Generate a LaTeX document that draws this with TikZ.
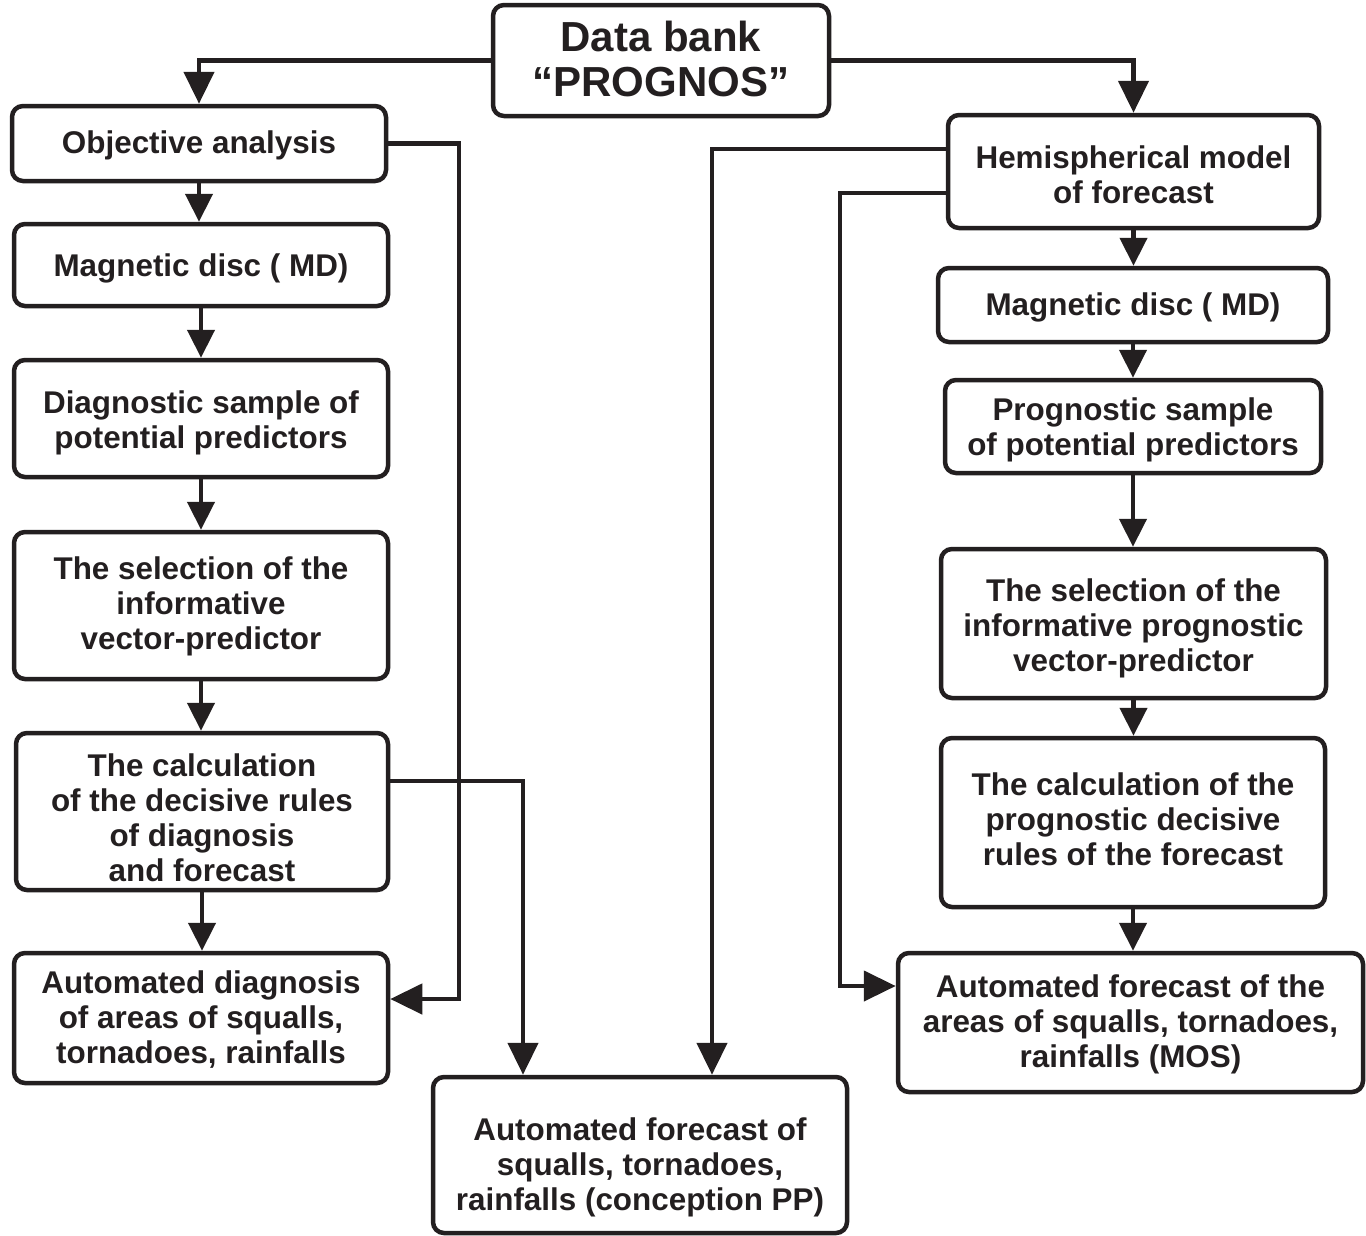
\documentclass[tikz,border=0pt]{standalone}
\usepackage{fontspec}
\setmainfont{Liberation Sans}
\usetikzlibrary{arrows.meta}
\definecolor{ink}{HTML}{231F20}
% strut on the first line: moves the text block down by #1 pt
\newcommand{\dn}[1]{\rule{0pt}{\dimexpr 23pt+#1pt*2\relax}}
% depth on the last line: moves the text block up by #1 pt
\newcommand{\up}[1]{\rule[-#1pt*2]{0pt}{#1pt*2}}
\begin{document}
\begin{tikzpicture}[x=1pt,y=-1pt,
  box/.style={draw=ink, line width=4.5pt, rounded corners=11pt, align=center, inner sep=0pt,
    font=\fontsize{31.4}{35}\selectfont\bfseries, text=ink},
  arr/.style={draw=ink, line width=4.5pt, -{Triangle[length=28pt,width=27pt]}},
  arrbig/.style={draw=ink, line width=4.5pt, -{Triangle[length=32pt,width=30pt]}}]
\useasboundingbox (0,0) rectangle (1366,1235);

% centre column
\node[box, minimum width=336pt, minimum height=111pt, font=\fontsize{42}{45}\selectfont\bfseries] (db) at (661,60.5) {Data bank\\``PROGNOS''\rule[-4pt]{0pt}{4pt}};
\node[box, minimum width=414pt, minimum height=156pt] (pp) at (640,1155) {\dn{12}Automated forecast of\\squalls, tornadoes,\\rainfalls (conception PP)};

% left column
\node[box, minimum width=374pt, minimum height=75pt] (obj) at (199,143.5) {\dn{2}Objective analysis};
\node[box, minimum width=374pt, minimum height=82pt] (mdL) at (201,265) {\dn{3}Magnetic disc ( MD)};
\node[box, minimum width=374pt, minimum height=117pt] (diag) at (201,418.5) {\dn{4}Diagnostic sample of\\potential predictors};
\node[box, minimum width=374pt, minimum height=147pt] (selL) at (201,605.5) {\dn{1}The selection of the\\informative\\vector-predictor};
\node[box, minimum width=372pt, minimum height=157pt] (calcL) at (202,811.5) {\dn{6}The calculation\\of the decisive rules\\of diagnosis\\and forecast};
\node[box, minimum width=374pt, minimum height=130pt] (autoD) at (201,1018) {\dn{1}Automated diagnosis\\of areas of squalls,\\tornadoes, rainfalls};

% right column
\node[box, minimum width=371pt, minimum height=113pt] (hemi) at (1133.5,171.5) {\dn{3.5}Hemispherical model\\of forecast};
\node[box, minimum width=390pt, minimum height=74pt] (mdR) at (1133,305) {\dn{2}Magnetic disc ( MD)};
\node[box, minimum width=376pt, minimum height=93pt] (prog) at (1133,426.5) {\dn{3.5}Prognostic sample\\of potential predictors};
\node[box, minimum width=385pt, minimum height=149pt] (selR) at (1133.5,623.5) {\dn{5}The selection of the\\informative prognostic\\vector-predictor};
\node[box, minimum width=384pt, minimum height=169pt] (calcR) at (1133,822.5) {The calculation of the\\prognostic decisive\\rules of the forecast\rule[-6pt]{0pt}{6pt}};
\node[box, minimum width=465pt, minimum height=139pt] (mos) at (1130.5,1022.5) {\dn{2}Automated forecast of the\\areas of squalls, tornadoes,\\rainfalls (MOS)};

% helper coordinates
\coordinate (tL) at (459,0);
\coordinate (tM) at (523,0);
\coordinate (tH) at (712,0);
\coordinate (tR) at (840,0);
\coordinate (aD) at ([yshift=19pt]autoD.east);
\coordinate (cLo) at ([yshift=30.5pt]calcL.east);
\coordinate (hA) at ([yshift=22.5pt]hemi.west);
\coordinate (hB) at ([yshift=-21.5pt]hemi.west);
\coordinate (mA) at ([yshift=36.5pt]mos.west);

% top connectors
\draw[arrbig] (db.west) -| (obj.north);
\draw[arrbig] (db.east) -| (hemi.north);

% left chain
\draw[arr] (obj.south) -- (obj.south |- mdL.north);
\draw[arr] (mdL.south) -- (mdL.south |- diag.north);
\draw[arr] (diag.south) -- (diag.south |- selL.north);
\draw[arr] (selL.south) -- (selL.south |- calcL.north);
\draw[arr] (calcL.south) -- (calcL.south |- autoD.north);

% right chain
\draw[arr] (hemi.south) -- (hemi.south |- mdR.north);
\draw[arr] (mdR.south) -- (mdR.south |- prog.north);
\draw[arr] (prog.south) -- (prog.south |- selR.north);
\draw[arr] (selR.south) -- (selR.south |- calcR.north);
\draw[arr] (calcR.south) -- (calcR.south |- mos.north);

% long connectors
\draw[arrbig] (obj.east) -- (obj.east -| tL) -- (tL |- aD) -- (aD);
\draw[arrbig] (cLo) -- (cLo -| tM) -- (tM |- pp.north);
\draw[arrbig] (hA) -- (hA -| tH) -- (tH |- pp.north);
\draw[arrbig] (hB) -- (hB -| tR) -- (tR |- mA) -- (mA);
\end{tikzpicture}
\end{document}
